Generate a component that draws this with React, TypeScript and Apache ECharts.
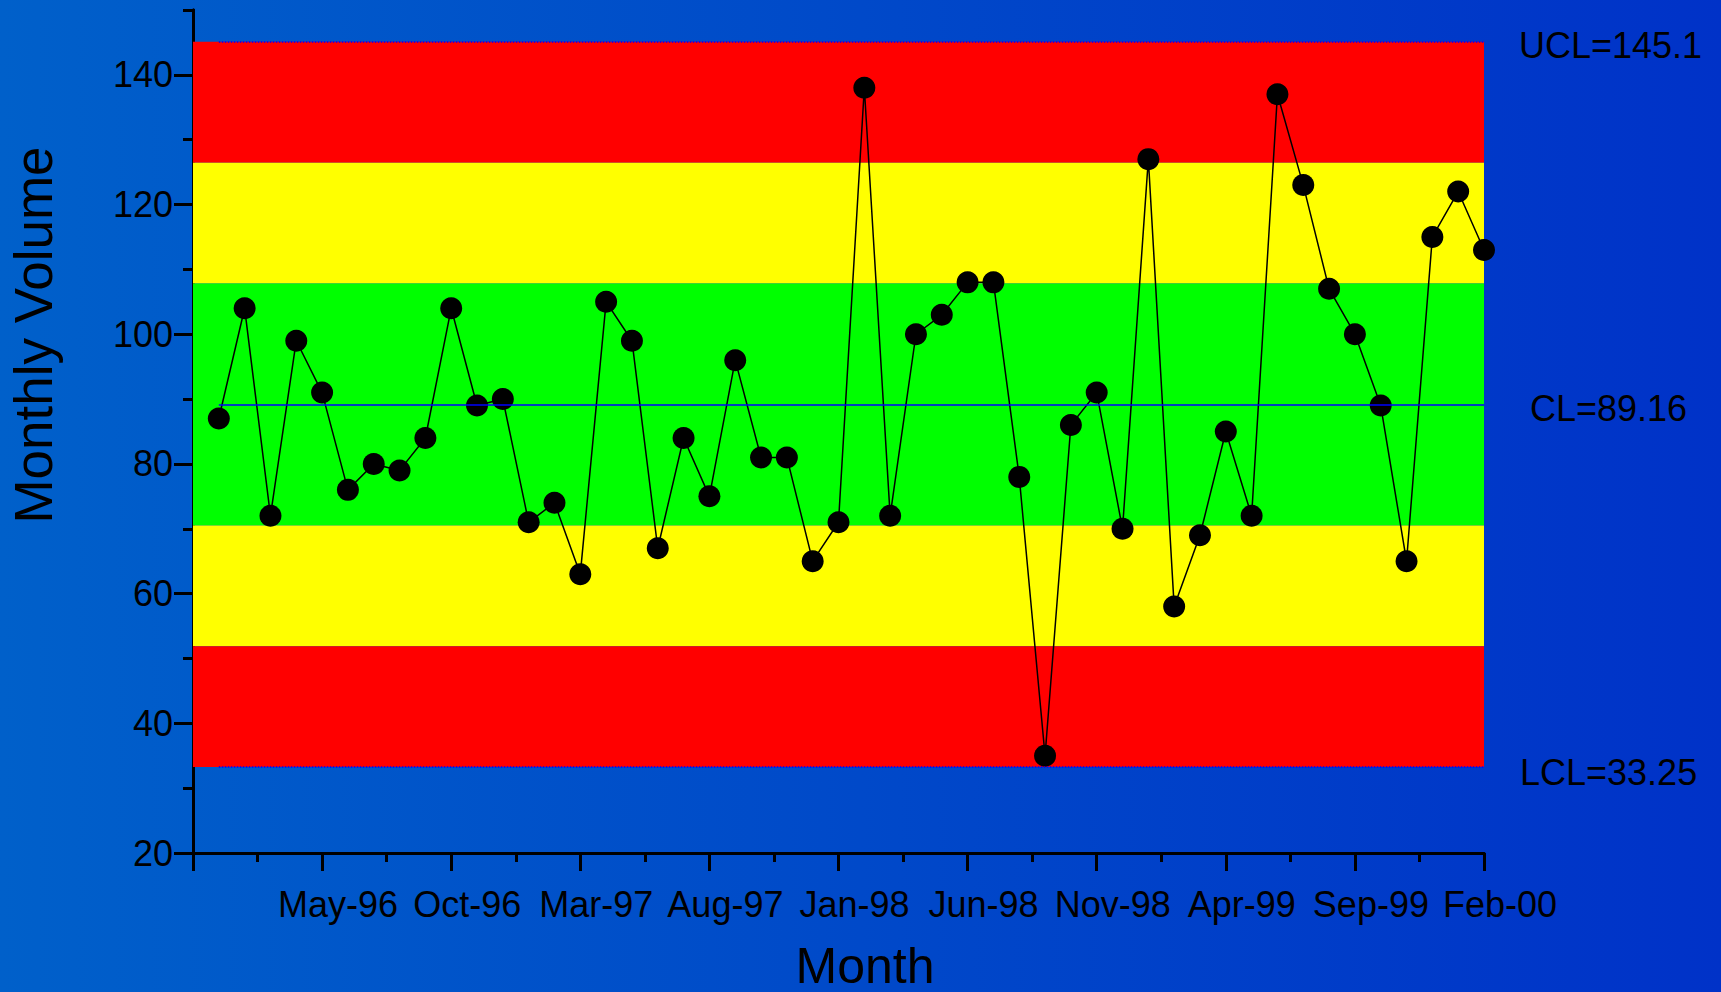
import React, { useEffect, useRef } from "react";
import * as echarts from "echarts";

// Monthly volume, Jan-96 .. Feb-00 (50 months)
const volumes = [
  87, 104, 72, 99, 91, 76, 80, 79, 84, 104,
  89, 90, 71, 74, 63, 105, 99, 67, 84, 75,
  96, 81, 81, 65, 71, 138, 72, 100, 103, 108,
  108, 78, 35, 86, 91, 70, 127, 58, 69, 85,
  72, 137, 123, 107, 100, 89, 65, 115, 122, 113,
];
// month index 0 = Dec-95; labelled ticks every 5 months starting at index 5
const monthTickLabels = [
  "May-96", "Oct-96", "Mar-97", "Aug-97", "Jan-98",
  "Jun-98", "Nov-98", "Apr-99", "Sep-99", "Feb-00",
];
const yMajorTicks = [20, 40, 60, 80, 100, 120, 140];
const UCL = 145.1;
const CL = 89.16;
const LCL = 33.25;
const controlLabels = ["UCL=145.1", "CL=89.16", "LCL=33.25"];
const xTitle = "Month";
const yTitle = "Monthly Volume";

const FONT = "'Liberation Sans', Arial, sans-serif";

export default function App() {
  const ref = useRef<HTMLDivElement>(null);

  useEffect(() => {
    if (!ref.current) return;
    const chart = echarts.init(ref.current, undefined, { renderer: "svg" });

    const upS = (UCL - CL) / 3;
    const loS = (CL - LCL) / 3;
    const seriesData = volumes.map((v, i) => [i + 1, v]);
    const firstX = 1;
    const lastX = volumes.length;

    const lineLabel = (text: string, dist: number, dy: number) => ({
      show: true,
      position: "end",
      formatter: text,
      color: "#000",
      fontSize: 36,
      fontFamily: FONT,
      distance: dist,
      offset: [0, dy],
    });

    const axisCommon = {
      type: "value",
      splitLine: { show: false },
      axisLine: { show: true, onZero: false, lineStyle: { color: "#000", width: 3 } },
    };

    const option: any = {
      animation: false,
      backgroundColor: "transparent",
      grid: { left: 193, right: 237, top: 10, bottom: 139, containLabel: false },
      xAxis: [
        {
          ...axisCommon,
          position: "bottom",
          min: 0,
          max: 50,
          interval: 2.5,
          axisTick: { show: true, length: 9, lineStyle: { color: "#000", width: 3 } },
          axisLabel: { show: false },
        },
        {
          ...axisCommon,
          position: "bottom",
          min: 0,
          max: 50,
          interval: 5,
          axisTick: { show: true, length: 18, lineStyle: { color: "#000", width: 3 } },
          axisLabel: {
            show: true,
            color: "#000",
            fontSize: 36,
            fontFamily: FONT,
            margin: 33,
            padding: [0, 0, 0, 32],
            formatter: (v: number) => {
              const k = Math.round(v / 5) - 1;
              return k >= 0 && k < monthTickLabels.length ? monthTickLabels[k] : "";
            },
          },
        },
      ],
      yAxis: [
        {
          ...axisCommon,
          position: "left",
          min: 20,
          max: 150,
          interval: 10,
          axisTick: { show: true, length: 10, lineStyle: { color: "#000", width: 3 } },
          axisLabel: { show: false },
        },
        {
          ...axisCommon,
          position: "left",
          min: 20,
          max: 150,
          interval: 10,
          axisTick: {
            show: true,
            length: 19,
            customValues: yMajorTicks,
            lineStyle: { color: "#000", width: 3 },
          },
          axisLabel: {
            show: true,
            customValues: yMajorTicks,
            color: "#000",
            fontSize: 36,
            fontFamily: FONT,
            margin: 20,
          },
        },
      ],
      series: [
        {
          type: "line",
          xAxisIndex: 0,
          yAxisIndex: 0,
          data: [],
          z: 1,
          silent: true,
          markArea: {
            silent: true,
            itemStyle: { opacity: 1 },
            data: [
              [{ yAxis: CL + 2 * upS, itemStyle: { color: "#FF0000" } }, { yAxis: UCL }],
              [{ yAxis: CL + upS, itemStyle: { color: "#FFFF00" } }, { yAxis: CL + 2 * upS }],
              [{ yAxis: CL - loS, itemStyle: { color: "#00FF00" } }, { yAxis: CL + upS }],
              [{ yAxis: CL - 2 * loS, itemStyle: { color: "#FFFF00" } }, { yAxis: CL - loS }],
              [{ yAxis: LCL, itemStyle: { color: "#FF0000" } }, { yAxis: CL - 2 * loS }],
            ],
          },
        },
        {
          type: "line",
          xAxisIndex: 0,
          yAxisIndex: 0,
          data: [],
          z: 2,
          silent: true,
          markLine: {
            silent: true,
            symbol: ["none", "none"],
            animation: false,
            data: [
              [
                {
                  coord: [firstX, UCL],
                  lineStyle: { color: "#0000FF", width: 1.5, type: "dotted" },
                  label: lineLabel(controlLabels[0], 35, 4),
                },
                { coord: [lastX, UCL] },
              ],
              [
                {
                  coord: [firstX, CL],
                  lineStyle: { color: "#0000FF", width: 1.5, type: "solid" },
                  label: lineLabel(controlLabels[1], 46, 4),
                },
                { coord: [lastX, CL] },
              ],
              [
                {
                  coord: [firstX, LCL],
                  lineStyle: { color: "#0000FF", width: 1.5, type: "dotted" },
                  label: lineLabel(controlLabels[2], 36, 5),
                },
                { coord: [lastX, LCL] },
              ],
            ],
          },
        },
        {
          type: "line",
          xAxisIndex: 0,
          yAxisIndex: 0,
          z: 3,
          data: seriesData,
          symbol: "circle",
          symbolSize: 22,
          lineStyle: { color: "#000", width: 1.5 },
          itemStyle: { color: "#000" },
        },
      ],
      graphic: [
        {
          type: "text",
          x: 865,
          y: 966,
          style: {
            text: xTitle,
            fill: "#000",
            font: `50px ${FONT}`,
            textAlign: "center",
            textVerticalAlign: "middle",
          },
        },
        {
          type: "text",
          x: 33,
          y: 335,
          rotation: Math.PI / 2,
          style: {
            text: yTitle,
            fill: "#000",
            font: `53px ${FONT}`,
            textAlign: "center",
            textVerticalAlign: "middle",
          },
        },
      ],
    };

    chart.setOption(option);
    return () => chart.dispose();
  }, []);

  return (
    <div
      ref={ref}
      style={{
        position: "fixed",
        left: 0,
        top: 0,
        width: 1721,
        height: 992,
        background: "linear-gradient(to right, #0060CA, #0032C8)",
      }}
    />
  );
}
